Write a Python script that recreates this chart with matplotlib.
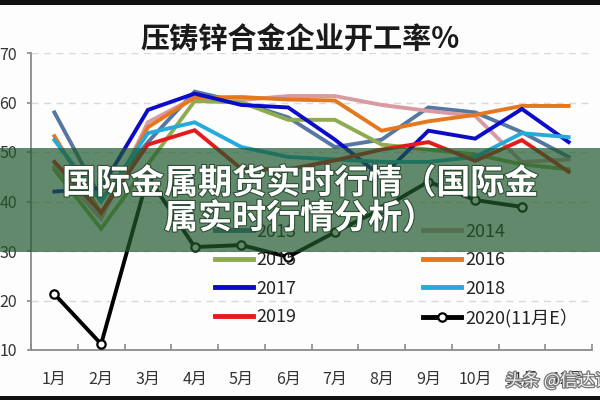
import numpy as np
import matplotlib
matplotlib.use("Agg")
import matplotlib.pyplot as plt
from matplotlib.patches import Rectangle
import matplotlib.patheffects as pe

plt.rcParams['font.family'] = ['Noto Sans CJK SC', 'DejaVu Sans']

months = ['1月', '2月', '3月', '4月', '5月', '6月', '7月', '8月', '9月', '10月', '11月', '12月']
labels = ['2013', '2014', '2015', '2016', '2017', '2018', '2019', '2020(11月E）']

y2013 = [58, 40.5, 52, 62.2, 60, 57, 51, 52.5, 59, 58, 54, 49]
y2014 = [47, 36.5, 56, 61, 60.5, 61.3, 61.3, 59.5, 58.3, 57.3, 48, 48.5]
y2015 = [46.4, 34.5, 47.5, 60.3, 60, 56.5, 56.5, 51.5, 50.5, 49.5, 47.5, 46.5]
y2016 = [53.2, 37.5, 55, 61, 61.1, 60.6, 60.4, 54.3, 56.2, 57.5, 59.3, 59.3]
y2017 = [42, 42.7, 58.5, 61.8, 59.5, 59, 52.5, 45, 54.3, 52.7, 58.7, 52]
y2018 = [52.4, 40, 53.8, 56, 51, 49, 48.5, 48, 48, 49, 53.8, 53]
y2019 = [48, 37.8, 51.5, 54.4, 46.6, 46.5, 48.3, 50.5, 52, 48.2, 52.4, 46]
y2020 = [21.3, 11.2, 45, 30.8, 31.2, 28.8, 33.8, 38.5, 44, 40.3, 38.9, np.nan]

series = [y2013, y2014, y2015, y2016, y2017, y2018, y2019, y2020]
colors = ['#5677a3', '#d99aa0', '#8eab4f', '#e5771e', '#0b0bc8', '#25abd9', '#e8191b', '#000000']

fig = plt.figure(figsize=(6, 4), dpi=100)
fig.patch.set_facecolor('#fdfdfd')
ax = fig.add_axes([0.0517, 0.125, 0.935, 0.7425])
ax.set_facecolor('#fdfdfd')

x = np.arange(len(months))
handles = []
for i, (ys, c, lab) in enumerate(zip(series, colors, labels)):
    if i == len(series) - 1:
        h, = ax.plot(x, ys, color=c, lw=2.8, marker='o', ms=6, mfc='white',
                     mec=c, mew=1.6, label=lab, zorder=3 + i)
    else:
        h, = ax.plot(x, ys, color=c, lw=2.8, label=lab, zorder=3 + i,
                     solid_joinstyle='miter')
    handles.append(h)

ax.set_xlim(-0.5, 11.5)
ax.set_ylim(10, 70)
ax.set_yticks(np.arange(10, 71, 10))
ax.set_xticks(x)
ax.set_xticklabels(months)
ax.set_xticks(np.arange(-0.5, 12, 1), minor=True)
ax.tick_params(axis='x', which='major', length=0, pad=15, labelsize=11.5, labelcolor='#333333')
ax.tick_params(axis='x', which='minor', direction='in', length=4, color='#8c8c8c', width=1.2)
ax.tick_params(axis='y', length=3, pad=7, labelsize=11.5, labelcolor='#333333', color='#8c8c8c', width=1.2)
for s in ['top', 'right']:
    ax.spines[s].set_visible(False)
for s in ['left', 'bottom']:
    ax.spines[s].set_color('#8c8c8c')
    ax.spines[s].set_linewidth(1.3)
ax.yaxis.grid(True, linestyle=(0, (5, 4)), color='#d9d9d9', lw=1.0)
ax.set_axisbelow(True)

order = [0, 2, 4, 6, 1, 3, 5, 7]
leg = fig.legend([handles[i] for i in order], [labels[i] for i in order], ncol=2,
                 loc='upper left', bbox_to_anchor=(0.358, 0.443), frameon=False,
                 fontsize=13, handlelength=2.1, handletextpad=0.22,
                 columnspacing=7.0, labelspacing=0.58, borderpad=0, borderaxespad=0)
for t in leg.get_texts():
    t.set_color('#222222')
for lh in leg.legend_handles:
    lh.set_linewidth(3.5)

fig.text(0.5, 1 - 40 / 400, '压铸锌合金企业开工率%', ha='center', va='center',
         fontsize=21, fontweight='bold', color='#1a1a1a')

# overlay banner
fig.patches.append(Rectangle((0, 0.37), 1, 0.26, transform=fig.transFigure,
                             facecolor='#1e5a2d', alpha=0.7, zorder=20, lw=0))
shadow = [pe.withStroke(linewidth=1.5, foreground='#2a4a30')]
fig.text(0.5, 1 - 183 / 400, '国际金属期货实时行情（国际金', ha='center', va='center',
         fontsize=24.5, fontweight='bold', color='white', zorder=21, path_effects=shadow)
fig.text(0.5, 1 - 218 / 400, '属实时行情分析）', ha='center', va='center',
         fontsize=24.5, fontweight='bold', color='white', zorder=21, path_effects=shadow)

# watermark
fig.text(0.842, 1 - 381 / 400, '头条 @信达证券', ha='left', va='center', fontsize=12.5,
         color='#f2f2f2', zorder=22,
         path_effects=[pe.withStroke(linewidth=1.8, foreground='#777777')])

# dark frame bars
fig.patches.append(Rectangle((0, 1 - 5 / 400), 1, 5 / 400, transform=fig.transFigure,
                             facecolor='#111111', zorder=30, lw=0))
fig.patches.append(Rectangle((0, 0), 1, 4 / 400, transform=fig.transFigure,
                             facecolor='#111111', zorder=30, lw=0))

fig.savefig('out.png', dpi=100)
